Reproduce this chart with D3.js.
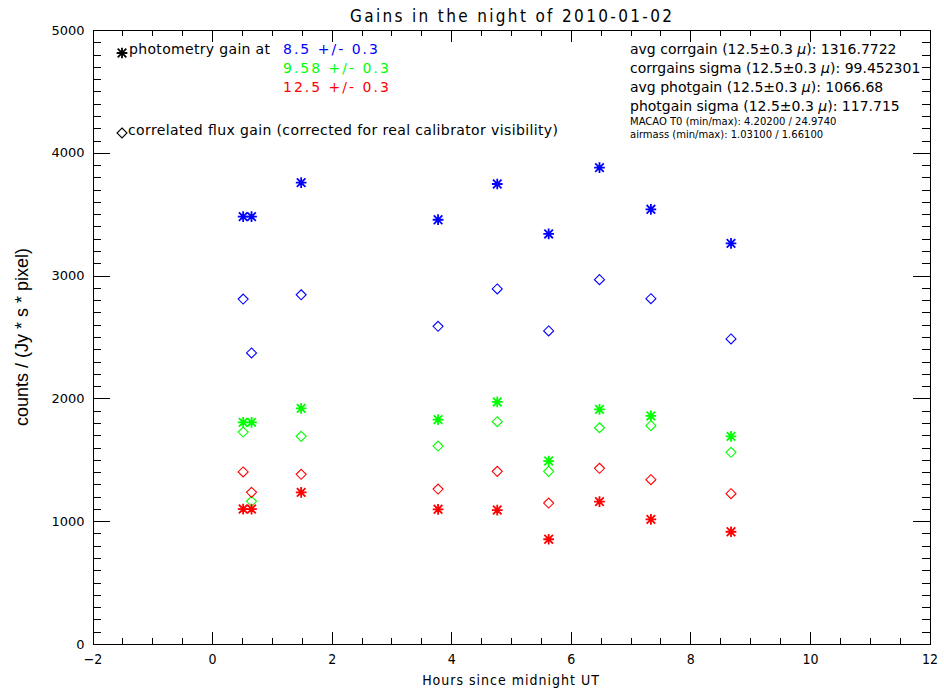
<!DOCTYPE html>
<html>
<head>
<meta charset="utf-8">
<script src="https://cdn.jsdelivr.net/npm/d3@7"></script>
<style>
  body { margin: 0; background: #fff; }
  svg { display: block; }
  .hershey { font-family: "DejaVu Sans Condensed", "DejaVu Sans", sans-serif; font-stretch: condensed; }
  .gothic { font-family: "DejaVu Sans", sans-serif; }
</style>
</head>
<body>
<div id="chart"></div>
<script>
let w = 944;
let h = 693;

// observation times (hours since midnight UT)
let hours = [0.52, 0.66, 1.49, 3.78, 4.77, 5.63, 6.48, 7.34, 8.68];

// photometry gains (asterisks)
let photBlue  = [3480, 3480, 3757, 3455, 3746, 3339, 3879, 3540, 3263];
let photGreen = [1805, 1805, 1919, 1827, 1971, 1490, 1911, 1857, 1691];
let photRed   = [1099, 1099, 1235, 1097, 1091,  853, 1159, 1015,  914];

// correlated flux gains (diamonds)
let corrBlue  = [2809, 2370, 2844, 2587, 2891, 2549, 2967, 2812, 2484];
let corrGreen = [1726, 1162, 1691, 1612, 1810, 1406, 1761, 1778, 1561];
let corrRed   = [1401, 1235, 1382, 1262, 1406, 1148, 1431, 1338, 1224];

let xTicks = [-2, 0, 2, 4, 6, 8, 10, 12];
let yTicks = [0, 1000, 2000, 3000, 4000, 5000];

let wavelengths = ["8.5 +/- 0.3", "9.58 +/- 0.3", "12.5 +/- 0.3"];
let colors = ["#0000ff", "#00ff00", "#ff0000"];

let stats = [
  ["avg corrgain", "1316.7722"],
  ["corrgains sigma", "99.452301"],
  ["avg photgain", "1066.68"],
  ["photgain sigma", "117.715"]
];
let smallStats = [
  "MACAO T0 (min/max): 4.20200 / 24.9740",
  "airmass (min/max): 1.03100 / 1.66100"
];

let plotLeft = 92.5, plotRight = 929.5, plotTop = 30, plotBottom = 644;

let svg = d3.select("#chart").append("svg")
  .attr("width", w)
  .attr("height", h);

let xScale = d3.scaleLinear().domain([-2, 12]).range([plotLeft, plotRight]);
let yScale = d3.scaleLinear().domain([0, 5000]).range([plotBottom, plotTop]);

// IDL style asterisk: plus + cross
let asterisk = {
  draw: function(context, size) {
    let r = Math.sqrt(size) / 2;
    let d = r * 0.8;
    context.moveTo(-r, 0); context.lineTo(r, 0);
    context.moveTo(0, -r); context.lineTo(0, r);
    context.moveTo(-d, -d); context.lineTo(d, d);
    context.moveTo(-d, d); context.lineTo(d, -d);
  }
};
let starPath = d3.symbol().type(asterisk).size(115)();
let diamondPath = d3.symbol().type(d3.symbolDiamond2).size(64)();

// axes: major + minor ticks on all four sides
function drawAxes() {
  let g = svg.append("g").attr("class", "axes");
  let xMinor = d3.range(-2, 12.001, 0.5);
  let yMinor = d3.range(0, 5001, 100);

  let xb = g.append("g").attr("transform", "translate(0," + plotBottom + ")")
    .call(d3.axisBottom(xScale).tickValues(xTicks).tickSize(-12).tickSizeOuter(0).tickPadding(10).tickFormat(d => d < 0 ? "\u2212" + (-d) : d));
  xb.append("g").call(d3.axisBottom(xScale).tickValues(xMinor).tickSize(-6).tickFormat(""))
    .select(".domain").remove();

  let xt = g.append("g").attr("transform", "translate(0," + plotTop + ")")
    .call(d3.axisTop(xScale).tickValues(xTicks).tickSize(-12).tickSizeOuter(0).tickFormat(""));
  xt.append("g").call(d3.axisTop(xScale).tickValues(xMinor).tickSize(-6).tickFormat(""))
    .select(".domain").remove();

  let yl = g.append("g").attr("transform", "translate(" + plotLeft + ",0)")
    .call(d3.axisLeft(yScale).tickValues(yTicks).tickSize(-17).tickSizeOuter(0).tickPadding(8).tickFormat(d3.format("d")));
  yl.append("g").call(d3.axisLeft(yScale).tickValues(yMinor).tickSize(-8).tickFormat(""))
    .select(".domain").remove();

  let yr = g.append("g").attr("transform", "translate(" + plotRight + ",0)")
    .call(d3.axisRight(yScale).tickValues(yTicks).tickSize(-17).tickSizeOuter(0).tickFormat(""));
  yr.append("g").call(d3.axisRight(yScale).tickValues(yMinor).tickSize(-8).tickFormat(""))
    .select(".domain").remove();

  g.selectAll("path, line").attr("stroke", "#000").attr("stroke-width", 1).attr("shape-rendering", "crispEdges");

  xb.selectAll(".tick text")
    .attr("class", "hershey")
    .style("font-size", "14px")
    .attr("fill", "#000");
  yl.selectAll(".tick text")
    .attr("class", "gothic")
    .style("font-size", "13px")
    .attr("fill", "#000");
}
drawAxes();

// data marks
let series = [];
colors.forEach((c, i) => {
  let phot = [photBlue, photGreen, photRed][i];
  let corr = [corrBlue, corrGreen, corrRed][i];
  hours.forEach((t, j) => {
    series.push({ t: t, v: corr[j], color: c, kind: "corr" });
    series.push({ t: t, v: phot[j], color: c, kind: "phot" });
  });
});

let marks = svg.append("g").attr("class", "marks");
marks.selectAll("path").data(series).enter()
  .append("path")
    .attr("transform", d => "translate(" + xScale(d.t) + "," + yScale(d.v) + ")")
    .attr("d", d => d.kind == "phot" ? starPath : diamondPath)
    .attr("fill", "none")
    .attr("stroke", d => d.color)
    .attr("stroke-width", d => d.kind == "phot" ? 1.8 : 1.1);

// title
svg.append("text")
  .attr("class", "hershey")
  .attr("x", (plotLeft + plotRight) / 2)
  .attr("y", 22)
  .attr("text-anchor", "middle")
  .style("font-size", "17px")
  .style("font-stretch", "normal")
  .attr("textLength", 322)
  .text("Gains in the night of 2010-01-02");

// axis titles
svg.append("text")
  .attr("class", "hershey")
  .attr("x", (plotLeft + plotRight) / 2)
  .attr("y", 685)
  .attr("text-anchor", "middle")
  .style("font-size", "14px")
  .style("letter-spacing", "1px")
  .text("Hours since midnight UT");

svg.append("text")
  .attr("transform", "rotate(-90)")
  .attr("x", -(plotTop + plotBottom) / 2)
  .attr("y", 28)
  .attr("text-anchor", "middle")
  .style("font-family", "'Liberation Sans', Arial, sans-serif")
  .style("font-size", "18px")
  .text("counts / (Jy * s * pixel)");

// legend
let legend = svg.append("g").attr("class", "legend gothic").style("font-size", "14px");
legend.append("path").attr("transform", "translate(122,53)").attr("d", starPath)
  .attr("fill", "none").attr("stroke", "#000").attr("stroke-width", 1.8);
legend.append("text").attr("x", 129).attr("y", 54).attr("textLength", 141).text("photometry gain at");
legend.selectAll(".wl").data(wavelengths).enter()
  .append("text")
    .attr("class", "wl")
    .attr("x", 283)
    .attr("y", (d, i) => 54 + i * 19)
    .attr("fill", (d, i) => colors[i])
    .style("letter-spacing", "2px")
    .text(d => d);
legend.append("path").attr("transform", "translate(122,133)").attr("d", diamondPath)
  .attr("fill", "none").attr("stroke", "#000").attr("stroke-width", 1.1);
legend.append("text").attr("x", 128).attr("y", 135).attr("textLength", 430)
  .text("correlated flux gain (corrected for real calibrator visibility)");

// statistics block
let statsG = svg.append("g").attr("class", "gothic").style("font-size", "14px");
stats.forEach((s, i) => {
  let t = statsG.append("text").attr("x", 630).attr("y", 54 + i * 19);
  t.append("tspan").text(s[0] + " (12.5\u00b10.3 ");
  t.append("tspan").style("font-style", "italic").text("\u03bc");
  t.append("tspan").text("): " + s[1]);
});
statsG.selectAll(".small").data(smallStats).enter()
  .append("text")
    .attr("class", "small")
    .attr("x", 630)
    .attr("y", (d, i) => 125 + i * 13)
    .style("font-size", "10px")
    .text(d => d);
</script>
</body>
</html>
